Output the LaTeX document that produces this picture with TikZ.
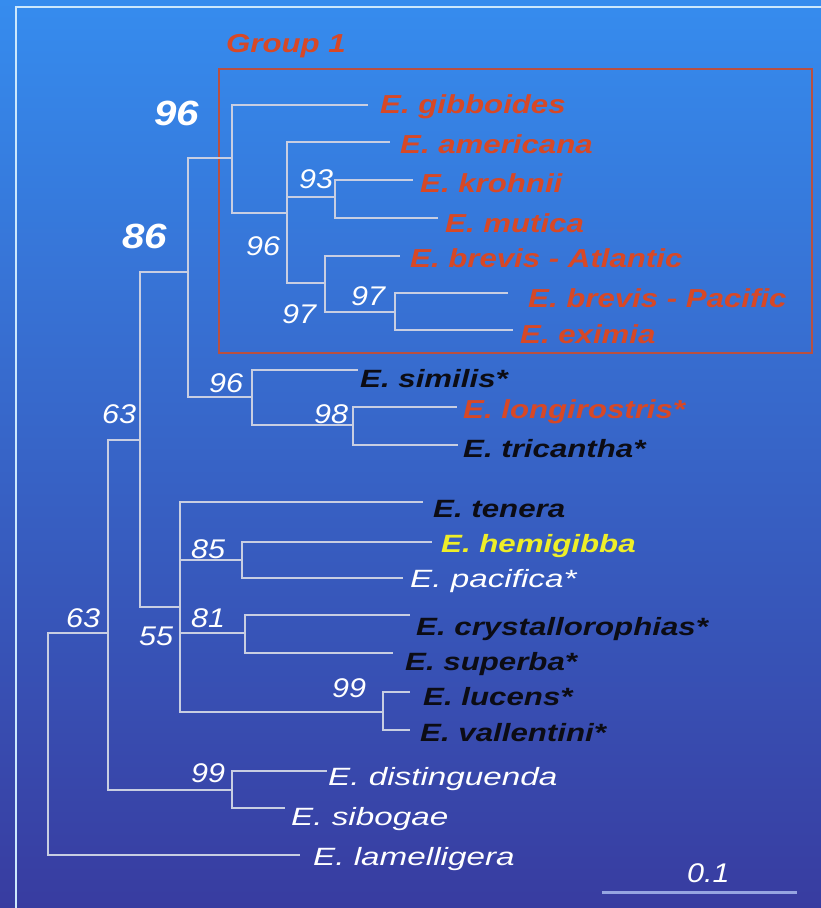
\documentclass[tikz,border=0pt]{standalone}
\usepackage{fontspec}
\newfontfamily\nmfont{Liberation Sans}[FakeStretch=1.25]
\newfontfamily\rdfont{Liberation Sans}[FakeStretch=1.2]
\newfontfamily\nmwfont{Liberation Sans}[FakeStretch=1.33]
\newfontfamily\numfont{Liberation Sans}[FakeStretch=1.13]
\newfontfamily\bignumfont{Liberation Sans}[FakeStretch=1.15]
\definecolor{bgtop}{RGB}{54,140,238}
\definecolor{bgmid}{RGB}{48,98,208}
\definecolor{bgbot}{RGB}{56,60,160}
\definecolor{redtx}{RGB}{215,72,38}
\definecolor{boxred}{RGB}{185,80,65}
\definecolor{branch}{RGB}{200,206,226}
\definecolor{framec}{RGB}{205,232,252}
\definecolor{yel}{RGB}{238,238,40}
\definecolor{blk}{RGB}{12,12,20}
\definecolor{scalec}{RGB}{150,165,225}
\begin{document}
\begin{tikzpicture}[x=1pt,y=-1pt,
  br/.style={draw=branch,line width=2.4pt},
  nm/.style={anchor=base west,inner sep=0pt,font={\nmfont\fontsize{25}{28}\selectfont\bfseries\itshape}},
  rd/.style={anchor=base west,inner sep=0pt,text=redtx,font={\rdfont\fontsize{26}{29}\selectfont\bfseries\itshape}},
  nmw/.style={anchor=base west,inner sep=0pt,text=white,font={\nmwfont\fontsize{25}{28}\selectfont\itshape}},
  bs/.style={anchor=base west,inner sep=0pt,text=white,font={\numfont\fontsize{27}{30}\selectfont\itshape}},
  bsbig/.style={anchor=base west,inner sep=0pt,text=white,font={\bignumfont\fontsize{35}{38}\selectfont\bfseries\itshape}}]
\useasboundingbox (0,0) rectangle (821,908);
\shade[top color=bgtop,middle color=bgmid,bottom color=bgbot] (0,0) rectangle (821,908);
% frame
\draw[framec,line width=2.5pt] (16,908) -- (16,7) -- (821,7);
% group box
\draw[boxred,line width=2pt] (219,69) rectangle (812,353);
\node[rd] (grp) at (226,52) {Group 1};
% internal nodes
\coordinate (R) at (48,744);
\coordinate (N63) at (108,633);
\coordinate (N86) at (140,440);
\coordinate (N96a) at (188,272);
\coordinate (N96g) at (232,158);
\coordinate (N96b) at (287,213);
\coordinate (N93) at (335,197);
\coordinate (N97a) at (325,283);
\coordinate (N97b) at (395,312);
\coordinate (N96s) at (252,397);
\coordinate (N98) at (353,425);
\coordinate (N55) at (180,607);
\coordinate (N85) at (242,560);
\coordinate (N81) at (245,633);
\coordinate (N99a) at (383,712);
\coordinate (N99b) at (232,790);
% tips
\coordinate (tGib) at (368,105);
\coordinate (tAme) at (390,142);
\coordinate (tKro) at (413,180);
\coordinate (tMut) at (438,218);
\coordinate (tBrA) at (400,256);
\coordinate (tBrP) at (508,293);
\coordinate (tExi) at (513,330);
\coordinate (tSim) at (358,370);
\coordinate (tLon) at (457,407);
\coordinate (tTri) at (458,445);
\coordinate (tTen) at (423,502);
\coordinate (tHem) at (432,542);
\coordinate (tPac) at (403,578);
\coordinate (tCry) at (410,615);
\coordinate (tSup) at (393,653);
\coordinate (tLuc) at (410,692);
\coordinate (tVal) at (410,730);
\coordinate (tDis) at (327,771);
\coordinate (tSib) at (285,808);
\coordinate (tLam) at (300,855);
% branches
\draw[br] (R) |- (N63) (R) |- (tLam);
\draw[br] (N63) |- (N86) (N63) |- (N99b);
\draw[br] (N86) |- (N96a) (N86) |- (N55);
\draw[br] (N96a) |- (N96g) (N96a) |- (N96s);
\draw[br] (N96g) |- (tGib) (N96g) |- (N96b);
\draw[br] (N96b) |- (tAme) (N96b) |- (N93) (N96b) |- (N97a);
\draw[br] (N93) |- (tKro) (N93) |- (tMut);
\draw[br] (N97a) |- (tBrA) (N97a) |- (N97b);
\draw[br] (N97b) |- (tBrP) (N97b) |- (tExi);
\draw[br] (N96s) |- (tSim) (N96s) |- (N98);
\draw[br] (N98) |- (tLon) (N98) |- (tTri);
\draw[br] (N55) |- (tTen) (N55) |- (N85) (N55) |- (N81) (N55) |- (N99a);
\draw[br] (N85) |- (tHem) (N85) |- (tPac);
\draw[br] (N81) |- (tCry) (N81) |- (tSup);
\draw[br] (N99a) |- (tLuc) (N99a) |- (tVal);
\draw[br] (N99b) |- (tDis) (N99b) |- (tSib);
% leaf labels
\node[rd] (lGib) at (380,113) {E. gibboides};
\node[rd] (lAme) at (400,153) {E. americana};
\node[rd] (lKro) at (420,192) {E. krohnii};
\node[rd] (lMut) at (445,232) {E. mutica};
\node[rd] (lBrA) at (410,267) {E. brevis - Atlantic};
\node[rd] (lBrP) at (528,307) {E. brevis - Pacific};
\node[rd] (lExi) at (520,343) {E. eximia};
\node[nm,text=blk] (lSim) at (360,387) {E. similis*};
\node[rd] (lLon) at (463,418) {E. longirostris*};
\node[nm,text=blk] (lTri) at (463,457) {E. tricantha*};
\node[nm,text=blk] (lTen) at (433,517) {E. tenera};
\node[nm,text=yel] (lHem) at (441,552) {E. hemigibba};
\node[nmw] (lPac) at (410,587) {E. pacifica*};
\node[nm,text=blk] (lCry) at (416,635) {E. crystallorophias*};
\node[nm,text=blk] (lSup) at (405,670) {E. superba*};
\node[nm,text=blk] (lLuc) at (423,705) {E. lucens*};
\node[nm,text=blk] (lVal) at (420,741) {E. vallentini*};
\node[nmw] (lDis) at (328,785) {E. distinguenda};
\node[nmw] (lSib) at (291,825) {E. sibogae};
\node[nmw] (lLam) at (313,865) {E. lamelligera};
% support values
\node[bsbig] (b96g) at (154,125) {96};
\node[bsbig] (b86) at (122,248) {86};
\node[bs] (b93) at (299,188) {93};
\node[bs] (b96b) at (246,255) {96};
\node[bs] (b97a) at (282,323) {97};
\node[bs] (b97b) at (351,305) {97};
\node[bs] (b96s) at (209,392) {96};
\node[bs] (b98) at (314,423) {98};
\node[bs] (b63a) at (102,423) {63};
\node[bs] (b85) at (191,558) {85};
\node[bs] (b81) at (191,627) {81};
\node[bs] (b55) at (139,645) {55};
\node[bs] (b63b) at (66,627) {63};
\node[bs] (b99a) at (332,697) {99};
\node[bs] (b99b) at (191,782) {99};
% scale bar
\coordinate (s1) at (602,892);
\coordinate (s2) at (797,892);
\draw[scalec,line width=3pt] (s1) -- (s2);
\node[bs] (sc) at (687,882) {0.1};
\end{tikzpicture}
\end{document}
